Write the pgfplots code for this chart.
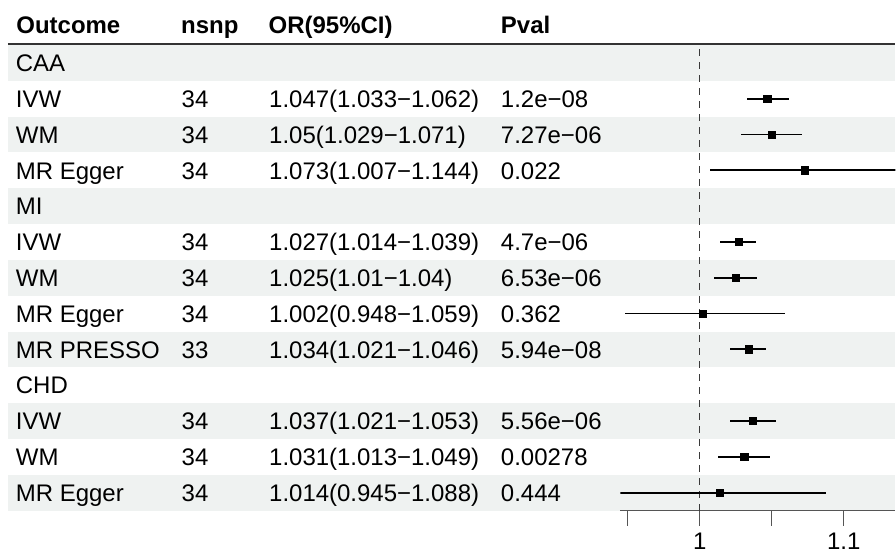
\documentclass[border=0pt]{standalone}
\usepackage{fontspec}
\setmainfont{Liberation Sans}
\usepackage{pgfplots}
\usepackage{pgfplotstable}
\pgfplotsset{compat=1.18}

\definecolor{band}{HTML}{EFF2F1}
\definecolor{hdrline}{HTML}{333333}
\definecolor{axgray}{HTML}{555555}
\definecolor{refline}{HTML}{3A3A3A}

% OR with 95% CI, row counted from the bottom
\pgfplotstableread{
or    lo    hi    row
1.047 1.033 1.062 12
1.05  1.029 1.071 11
1.073 1.007 1.144 10
1.027 1.014 1.039 8
1.025 1.01  1.04  7
1.002 0.948 1.059 6
1.034 1.021 1.046 5
1.037 1.021 1.053 3
1.031 1.013 1.049 2
1.014 0.945 1.088 1
}\est

\begin{document}
\begin{tikzpicture}
\begin{scope}[x=0.5pt,y=-0.5pt,every node/.style={inner sep=0pt,anchor=base west,font=\fontsize{12pt}{14pt}\selectfont}]
  \useasboundingbox (0,0) rectangle (896,554);
  % shaded rows
  \foreach \i in {1,3,...,13}
    \fill[band] (8,{45+35.85*(\i-1)}) rectangle (896,{45+35.85*\i});
  \draw[hdrline,line width=1.3pt] (8,44) -- (896,44);
  % header
  \node at (16,33.5) {\bfseries Outcome};
  \node at (181,33.5) {\bfseries nsnp};
  \node at (268.5,33.5) {\bfseries OR(95\%CI)};
  \node at (501,33.5) {\bfseries Pval};
  % rows
  \foreach \i/\a/\b/\c/\d in {
      1/CAA///,
      2/IVW/34/1.047(1.033−1.062)/1.2e−08,
      3/WM/34/1.05(1.029−1.071)/7.27e−06,
      4/MR Egger/34/1.073(1.007−1.144)/0.022,
      5/MI///,
      6/IVW/34/1.027(1.014−1.039)/4.7e−06,
      7/WM/34/1.025(1.01−1.04)/6.53e−06,
      8/MR Egger/34/1.002(0.948−1.059)/0.362,
      9/MR PRESSO/33/1.034(1.021−1.046)/5.94e−08,
      10/CHD///,
      11/IVW/34/1.037(1.021−1.053)/5.56e−06,
      12/WM/34/1.031(1.013−1.049)/0.00278,
      13/MR Egger/34/1.014(0.945−1.088)/0.444}{
    \node at (15.5,{45+35.85*(\i-0.5)+8.7}) {\a};
    \node at (181.5,{45+35.85*(\i-0.5)+8.7}) {\b};
    \node at (269,{45+35.85*(\i-0.5)+8.7}) {\c};
    \node at (501,{45+35.85*(\i-0.5)+8.7}) {\d};
  }
\end{scope}

\begin{axis}[
  at={(310.5pt,-255.5pt)}, anchor=south west,
  scale only axis, width=137.5pt, height=233pt,
  xmin=0.945, xmax=1.1358, ymin=0.5, ymax=13.5,
  hide y axis,
  axis x line*=bottom,
  x axis line style={draw=axgray, line width=0.75pt, -},
  xtick={0.95,1,1.05,1.1}, xticklabels={,1,,1.1},
  tick align=outside, major tick length=7.5pt,
  xtick style={draw=axgray, line width=0.75pt},
  xticklabel style={font=\fontsize{12pt}{14pt}\selectfont, /pgf/number format/assume math mode=true},
]
\addplot[refline, line width=0.7pt, dash pattern=on 3.3pt off 3.2pt] coordinates {(1,0.5) (1,13.5)};
\addplot[only marks, mark=square*, mark size=1.8pt, black,
  error bars/.cd, x dir=both, x explicit, error mark=none,
  error bar style={line width=0.9pt, black}]
  table[x=or, y=row,
    x error plus expr=\thisrow{hi}-\thisrow{or},
    x error minus expr=\thisrow{or}-\thisrow{lo}] {\est};
\end{axis}
\end{tikzpicture}
\end{document}
